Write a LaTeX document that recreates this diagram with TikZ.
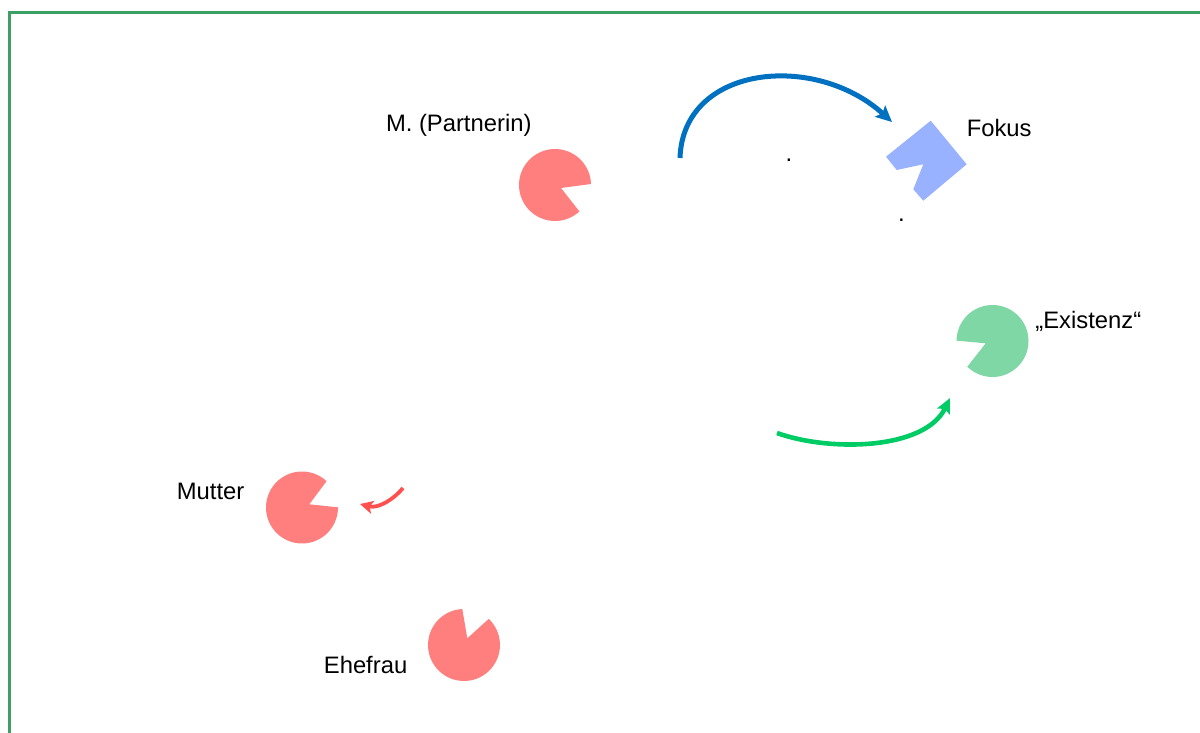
\documentclass[tikz,border=0pt]{standalone}
\usepackage{fontspec}
\setmainfont{Liberation Sans}
\usetikzlibrary{arrows.meta,calc}

\definecolor{framegreen}{RGB}{60,160,100}
\definecolor{pacred}{RGB}{255,127,127}
\definecolor{pacgreen}{RGB}{127,215,166}
\definecolor{fokusblue}{RGB}{153,178,255}
\definecolor{arrowblue}{RGB}{0,112,192}
\definecolor{arrowgreen}{RGB}{0,204,102}
\definecolor{arrowred}{RGB}{255,80,80}

% pie with a notch: style, centre, radius, body start angle, body end angle, notch vertex
\newcommand\pacfill[6]{%
  \fill[#1] (#6) -- ($(#2)+(-#4:#3)$) arc[start angle=-#4, end angle=-#5, radius=#3] -- cycle;}

\begin{document}
\begin{tikzpicture}[x=0.5pt,y=-0.5pt,
  lbl/.style={inner sep=0pt, anchor=base west, font=\fontsize{11.9}{14}\selectfont},
  dotmark/.style={inner sep=0pt, anchor=base, font=\fontsize{11.9}{14}\selectfont},
  frame/.style={draw=framegreen, line width=1.25pt},
  bluearc/.style={draw=arrowblue, line width=2.5pt, -{Stealth[length=8pt,width=7.5pt,inset=1.5pt]}},
  greenarc/.style={draw=arrowgreen, line width=2.3pt, -{Stealth[length=7.5pt,width=7pt,inset=1.5pt]}},
  redarc/.style={draw=arrowred, line width=1.9pt, -{Stealth[length=6.5pt,width=6.5pt,inset=1.5pt]}}]
\useasboundingbox (0,0) rectangle (1200,733);

% outer frame, running past the right and bottom edges
\begin{scope}
  \clip (0,0) rectangle (1200,733);
  \draw[frame] (9.5,12.5) rectangle (1220,760);
\end{scope}

% centres and notch vertices of the round markers
\coordinate (cP) at (555,185);   \coordinate (vP) at (561,188);
\coordinate (cE) at (992.5,341); \coordinate (vE) at (985.7,343.3);
\coordinate (cM) at (302,507.5); \coordinate (vM) at (309.3,504.3);
\coordinate (cF) at (464,645);   \coordinate (vF) at (467.3,638.3);

\pacfill{pacred}{cP}{36}{1.6}{312.7}{vP}
\pacfill{pacgreen}{cE}{36}{225.6}{539.5}{vE}
\pacfill{pacred}{cM}{36}{47}{360.3}{vM}
\pacfill{pacred}{cF}{36}{92.7}{406.5}{vF}

% focus marker
\fill[fokusblue] (930.7,120.7) -- (966.7,164.3) -- (923.3,200.7) -- (913.3,189.3)
  -- (923.3,164.3) -- (896.7,170) -- (886,156.7) -- cycle;

% labels
\node[lbl] (partnerin) at (385.6,131.5) {M. (Partnerin)};
\node[lbl] (fokus) at (966.4,136.5) {Fokus};
\node[lbl] (existenz) at (1035,328.5) {„Existenz“};
\node[lbl] (mutter) at (176.5,499.5) {Mutter};
\node[lbl] (ehefrau) at (323.5,673.5) {Ehefrau};

\node[dotmark] (dotA) at (789,161.2) {.};
\node[dotmark] (dotB) at (901.3,221) {.};

% curved arrows
\coordinate (b0) at (680,158);
\coordinate (b3) at (892,122);
\draw[bluearc] (b0) .. controls (683,65) and (815,52) .. (b3);

\coordinate (g0) at (777,433);
\coordinate (g3) at (950,398);
\draw[greenarc] (g0) .. controls (830,452) and (925,450) .. (g3);

\coordinate (r0) at (403,488);
\coordinate (r3) at (360,504);
\draw[redarc] (r0) .. controls (395,498) and (379,509) .. (r3);
\end{tikzpicture}
\end{document}
